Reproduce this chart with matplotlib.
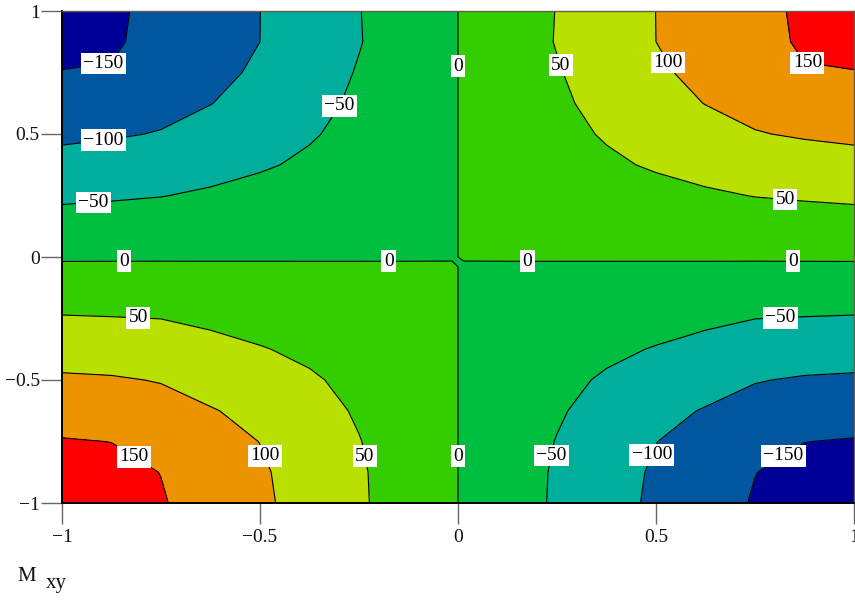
import matplotlib
matplotlib.use("Agg")
import matplotlib.pyplot as plt
import numpy as np

plt.rcParams['font.family'] = ['Liberation Serif', 'DejaVu Serif']

# Grid nodes for the right half of the plate (x > 0); the left half is antisymmetric.
# The innermost column sits just off the x = 0 axis so the zero lines fall between nodes.
x_half = [0.015, 0.125, 0.25, 0.375, 0.5, 0.625, 0.75, 0.875, 1.0]
y_nodes = [-1.0, -0.875, -0.75, -0.625, -0.5, -0.375, -0.25, -0.125, -0.04,
           0.0, 0.125, 0.25, 0.375, 0.5, 0.625, 0.75, 0.875, 1.0]

# Twisting moment Mxy on the right half, one row per y node (bottom to top)
mxy_right = [
    [-3.4, -28.0, -55.8, -82.6, -108.0, -131.0, -153.3, -175.0, -192.0],
    [-3.3, -27.7, -55.0, -80.8, -105.6, -127.4, -149.3, -163.0, -174.0],
    [-3.1, -25.8, -51.5, -75.5, -99.4, -116.0, -134.0, -149.5, -152.8],
    [-2.7, -22.7, -45.5, -66.0, -88.0, -102.7, -115.0, -124.0, -129.8],
    [-2.3, -19.1, -38.2, -55.3, -69.0, -82.7, -98.0, -104.0, -106.2],
    [-1.7, -13.8, -27.5, -41.3, -52.5, -64.0, -72.0, -77.0, -80.1],
    [-1.0, -8.3, -16.6, -24.8, -33.1, -41.4, -49.7, -51.5, -53.0],
    [-0.5, -4.2, -8.3, -12.4, -16.6, -20.7, -24.8, -25.8, -26.5],
    [-0.1, -0.80, -1.58, -2.36, -3.15, -3.93, -4.71, -4.90, -5.04],
    [0.07, 0.61, 1.23, 1.84, 2.44, 3.05, 3.53, 3.82, 4.11],
    [0.53, 4.4, 8.9, 13.3, 17.7, 22.1, 25.6, 27.7, 29.8],
    [1.06, 8.8, 17.7, 26.5, 35.4, 44.2, 51.2, 55.0, 58.4],
    [1.7, 14.3, 28.5, 42.8, 55.0, 65.0, 73.0, 81.0, 84.8],
    [2.2, 18.4, 36.8, 54.0, 68.2, 82.5, 98.0, 104.0, 108.6],
    [2.6, 21.3, 42.7, 62.9, 82.4, 101.0, 112.0, 123.0, 129.0],
    [2.8, 23.6, 47.2, 70.2, 93.2, 112.0, 127.0, 147.5, 149.0],
    [3.1, 26.0, 52.0, 76.0, 100.0, 118.7, 137.3, 155.0, 160.0],
    [3.1, 25.6, 51.2, 75.7, 100.2, 119.0, 138.0, 157.0, 170.0],
]

levels = [-150, -100, -50, 0, 50, 100, 150]
band_colors = ['#000096', '#0057A0', '#00AE9C', '#00BE40',
               '#33CD00', '#B8E000', '#EE9300', '#FF0000']

# Label anchor points for the contour values
label_pts = [
    (-0.894, 0.776), (0.0, 0.776), (0.253, 0.776), (0.514, 0.776), (0.881, 0.776),
    (-0.283, 0.598), (-0.894, 0.443), (-0.92, 0.19), (0.825, 0.203),
    (-0.843, -0.03), (-0.175, -0.03), (0.175, -0.03), (0.846, -0.03),
    (-0.808, -0.26), (0.815, -0.26),
    (-0.818, -0.81), (-0.491, -0.81), (-0.238, -0.81), (0.0, -0.81),
    (0.243, -0.81), (0.499, -0.81), (0.823, -0.81),
]

x_ticks = [-1, -0.5, 0, 0.5, 1]
x_tick_labels = ['\u22121', '\u22120.5', '0', '0.5', '1']
y_ticks = [-1, -0.5, 0, 0.5, 1]
y_tick_labels = ['\u22121', '\u22120.5', '0', '0.5', '1']

# Full field: mirror the right half with a sign change
x_full = [-v for v in reversed(x_half)] + x_half
z_full = [[-v for v in reversed(row)] + row for row in mxy_right]
X, Y = np.meshgrid(x_full, y_nodes)
Z = np.array(z_full)

fig = plt.figure(figsize=(8.55, 6.04), dpi=100)
ax = fig.add_axes([62 / 855, 1 - 503 / 604, (854 - 62) / 855, (503 - 11) / 604])

fill_levels = [-1000] + levels + [1000]
ax.contourf(X, Y, Z, levels=fill_levels, colors=band_colors, antialiased=False)
cs = ax.contour(X, Y, Z, levels=levels, colors='black', linewidths=0.8,
                linestyles='solid')


def fmt(v):
    return f"{v:.0f}".replace('-', '\u2212')


texts = ax.clabel(cs, levels, manual=label_pts, inline=False, fmt=fmt, fontsize=14)
for t in texts:
    t.set_rotation(0)
    t.set_bbox(dict(boxstyle='square,pad=0.12', fc='white', ec='none'))

ax.set_xlim(-1, 1)
ax.set_ylim(-1, 1)
ax.set_xticks(x_ticks)
ax.set_xticklabels(x_tick_labels)
ax.set_yticks(y_ticks)
ax.set_yticklabels(y_tick_labels)
ax.tick_params(direction='out', length=15, width=1, color='#666666',
               labelsize=14, labelcolor='#111111')
ax.tick_params(axis='x', pad=4)
ax.tick_params(axis='y', pad=1)

for side in ['left', 'bottom']:
    ax.spines[side].set_linewidth(1.4)
    ax.spines[side].set_color('black')
for side in ['top', 'right']:
    ax.spines[side].set_linewidth(1.0)
    ax.spines[side].set_color('#6b5a4a')

fig.text(17 / 855, 1 - 581 / 604, 'M', fontsize=15, color='#111111')
fig.text(46 / 855, 1 - 588 / 604, 'xy', fontsize=15, color='#111111')

fig.savefig('out.png', dpi=100)
